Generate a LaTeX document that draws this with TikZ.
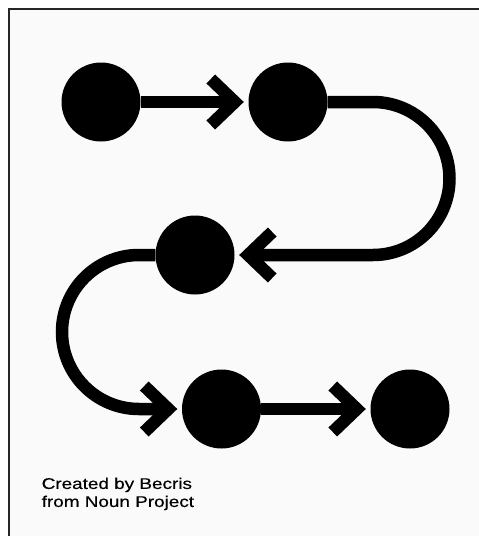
\documentclass[tikz,border=0pt]{standalone}
\usepackage{fontspec}
\newfontfamily\creditfont{Liberation Sans}[FakeStretch=1.22, FakeBold=0.4]
\usetikzlibrary{arrows.meta}
\tikzset{
	dot/.style={circle, fill=black, minimum size=79pt, inner sep=0pt},
	link/.style={line width=12.5pt, -{Straight Barb[length=24pt, width=46pt, line width=12.5pt, sharp]}, shorten >=4.5pt},
	frame/.style={line width=2pt, black!85}
}
\begin{document}
\begin{tikzpicture}[x=1pt, y=-1pt]
	\useasboundingbox (0, 0) rectangle (479, 536);
	% Background and frame:
	\fill[black!2] (8, 8) rectangle (479, 536);
	\draw[frame] (8, 8.5) -- (479, 8.5);
	\draw[frame] (8.5, 8) -- (8.5, 536);
	% Steps:
	\node[dot] (c1) at (101, 102){};
	\node[dot] (c2) at (288, 102){};
	\node[dot] (c3) at (195, 255){};
	\node[dot] (c4) at (221.5, 409){};
	\node[dot] (c5) at (410, 409){};
	% Connectors:
	\draw[link] (c1) -- (c2);
	\draw[link] (c2.east) -- (373, 102) arc[start angle=-90, end angle=90, radius=76.5] -- (c3.east);
	\draw[link] (c3.west) -- (139, 255) arc[start angle=-90, end angle=-270, radius=77] -- (c4.west);
	\draw[link] (c4) -- (c5);
	% Credit:
	\node[anchor=north west, align=left, inner sep=0pt, font=\creditfont\fontsize{15.5pt}{18pt}\selectfont] (credit) at (41.5, 477.5){Created by Becris\\from Noun Project};
\end{tikzpicture}
\end{document}
